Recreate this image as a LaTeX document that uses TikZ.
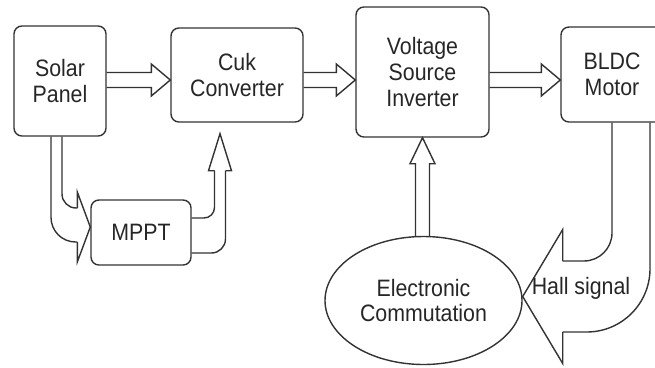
\documentclass[tikz,border=0pt]{standalone}
\usepackage{fontspec}
\setmainfont[FakeStretch=0.9]{Liberation Sans}
\usepackage{tikz}
\usetikzlibrary{shapes, positioning, calc}
\colorlet{lineclr}{black!80}
\tikzstyle{block}=[draw=lineclr, line width=0.8pt, rounded corners=4.5pt,
  align=center, inner sep=0pt, text=black!85,
  font=\fontsize{13.5}{14.7}\selectfont]
\tikzstyle{oval}=[ellipse, draw=lineclr, line width=0.8pt, align=center,
  inner sep=0pt, text=black!85, font=\fontsize{13.5}{14.7}\selectfont]
\tikzstyle{fat}=[draw=lineclr, line width=0.8pt, line join=miter]
\tikzstyle{sigtext}=[text=black!85, inner sep=0pt,
  font=\fontsize{13.5}{14.7}\selectfont]
% hollow arrow between two points on one row
\newcommand{\fatright}[2]{%
  \draw[fat] ($(#1)+(0,-7.5)$) -- ($(#2)+(-19,-7.5)$) -- ($(#2)+(-19,-16)$)
    -- (#2) -- ($(#2)+(-19,16)$) -- ($(#2)+(-19,7.5)$) -- ($(#1)+(0,7.5)$);}

\begin{document}
\begin{tikzpicture}[x=0.2mm, y=-0.2mm]
  \clip (0,0) rectangle (655,367);

  \node[block, minimum width=18.4mm, minimum height=22mm] (sp) at (60,81) {Solar\\Panel};
  \node[block, minimum width=26.4mm, minimum height=18.8mm] (cuk) at (237,75) {Cuk\\Converter};
  \node[block, minimum width=26.6mm, minimum height=26mm] (vsi) at (422.5,72) {Voltage\\Source\\Inverter};
  \node[block, minimum width=20.4mm, minimum height=19mm] (bldc) at (612,74.5) {BLDC\\Motor};
  \node[block, minimum width=20mm, minimum height=13mm] (mppt) at (141,232.5) {MPPT};
  \node[oval, minimum width=39.4mm, minimum height=25.6mm] (ec) at (423.5,300.5) {Electronic\\Commutation};
  \node[sigtext] (hall) at (581,288) {Hall signal};

  \coordinate (row) at (0,80);
  \fatright{sp.east |- row}{cuk.west |- row}
  \fatright{cuk.east |- row}{vsi.west |- row}
  \fatright{vsi.east |- row}{bldc.west |- row}

  % commutation up to the inverter
  \draw[fat] ($(vsi.south |- ec.north)+(-7,0)$) -- ($(vsi.south)+(-7,26)$)
    -- ($(vsi.south)+(-12.5,26)$) -- (vsi.south) -- ($(vsi.south)+(12.5,26)$)
    -- ($(vsi.south)+(7,26)$) -- ($(vsi.south |- ec.north)+(7,0)$);

  % panel down into the tracker
  \coordinate (mtip) at ($(mppt.west)+(0,-5.5)$);
  \draw[fat, rounded corners=8pt] ($(sp.south)+(2,0)$) |- ($(mtip)+(-13,-19)$);
  \draw[fat, rounded corners=14pt] ($(sp.south)+(-9,0)$) |- ($(mtip)+(-13,15)$);
  \draw[fat] ($(mtip)+(-13,-19)$) -- ($(mtip)+(-13,-35)$) -- (mtip)
    -- ($(mtip)+(-13,35)$) -- ($(mtip)+(-13,15)$);

  % tracker back up to the converter
  \coordinate (ctip) at ($(cuk.south)+(-17,11)$);
  \draw[fat, rounded corners=6pt] ($(mppt.east)+(0,-14.5)$) -| ($(ctip)+(-5.5,37)$);
  \draw[fat, rounded corners=8pt] ($(mppt.east)+(0,20.5)$) -| ($(ctip)+(5.5,37)$);
  \draw[fat] ($(ctip)+(-5.5,37)$) -- ($(ctip)+(-11.5,37)$) -- (ctip)
    -- ($(ctip)+(11.5,37)$) -- ($(ctip)+(5.5,37)$);

  % hall feedback from the motor
  \coordinate (htip) at ($(ec.east)+(0,-4)$);
  \draw[fat, rounded corners=16pt] (bldc.south) |- ($(htip)+(40,-35.5)$);
  \draw[fat, rounded corners=36pt] ($(bldc.south)+(38,0)$) |- ($(htip)+(40,35.5)$);
  \draw[fat] ($(htip)+(40,-35.5)$) -- ($(htip)+(40,-67)$) -- (htip)
    -- ($(htip)+(40,67)$) -- ($(htip)+(40,35.5)$);
\end{tikzpicture}
\end{document}
